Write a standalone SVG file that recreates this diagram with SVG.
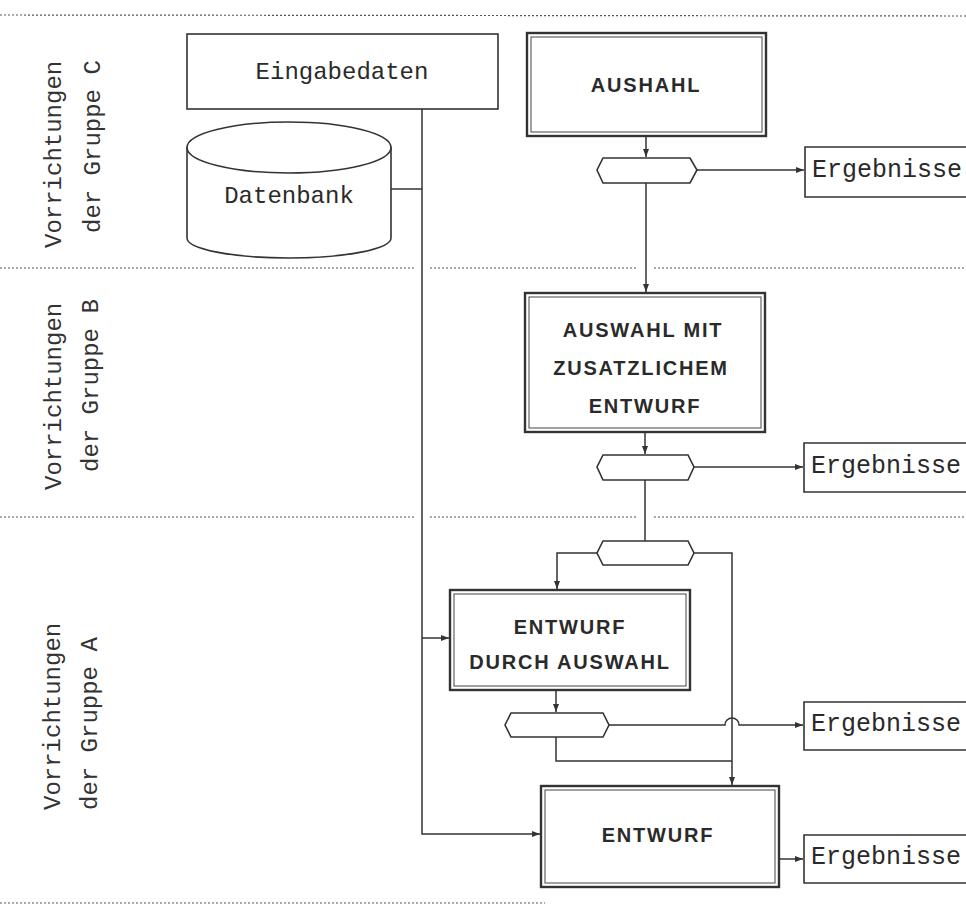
<svg xmlns="http://www.w3.org/2000/svg" width="966" height="907" viewBox="0 0 966 907">
<style>
.sep{stroke:#555;stroke-width:1.2;stroke-dasharray:2 2;fill:none}
.box{fill:#fff;stroke:#333;stroke-width:1.6}
.dbl{fill:#fff;stroke:#333;stroke-width:2.4}
.inner{fill:none;stroke:#444;stroke-width:1}
.ln{fill:none;stroke:#333;stroke-width:1.5}
.mono{font-family:"Liberation Mono","DejaVu Sans Mono",monospace;fill:#2a2a2a}
.lbl{font-family:"Liberation Mono","DejaVu Sans Mono",monospace;font-size:24px;fill:#333}
.bold{font-family:"Liberation Sans",Arial,sans-serif;font-weight:bold;font-size:20px;letter-spacing:1.8px;fill:#2a2a2a;text-anchor:middle}
</style>
<defs>
<marker id="ah" markerWidth="8" markerHeight="6" refX="8" refY="3" orient="auto" markerUnits="userSpaceOnUse">
<path d="M0,0 L8,3 L0,6 Z" fill="#333"/>
</marker>
</defs>
<rect width="966" height="907" fill="#fff"/>
<g id="separators">
<line class="sep" x1="0" y1="15" x2="966" y2="16"/>
<path class="sep" d="M0,268 H414 M430,268 H638 M654,268 H966"/>
<path class="sep" d="M0,517 H414 M430,517 H638 M654,517 H966"/>
<line class="sep" x1="0" y1="903" x2="545" y2="903"/>
</g>
<g id="labels">
<text class="lbl" transform="translate(61,248) rotate(-90)">Vorrichtungen</text>
<text class="lbl" transform="translate(100,233) rotate(-90)">der Gruppe C</text>
<text class="lbl" transform="translate(61,490) rotate(-90)">Vorrichtungen</text>
<text class="lbl" transform="translate(98,472) rotate(-90)">der Gruppe B</text>
<text class="lbl" transform="translate(60,810) rotate(-90)">Vorrichtungen</text>
<text class="lbl" transform="translate(97,810) rotate(-90)">der Gruppe A</text>
</g>
<g id="connectors">
<polyline class="ln" points="422,109 422,834 540,834" marker-end="url(#ah)"/>
<line class="ln" x1="391" y1="189" x2="422" y2="189"/>
<line class="ln" x1="422" y1="638" x2="449" y2="638" marker-end="url(#ah)"/>
<line class="ln" x1="646" y1="137" x2="646" y2="157" marker-end="url(#ah)"/>
<line class="ln" x1="697" y1="170" x2="804" y2="170" marker-end="url(#ah)"/>
<line class="ln" x1="646" y1="183" x2="646" y2="292" marker-end="url(#ah)"/>
<line class="ln" x1="645" y1="432" x2="645" y2="454" marker-end="url(#ah)"/>
<line class="ln" x1="694" y1="467" x2="803" y2="467" marker-end="url(#ah)"/>
<line class="ln" x1="645" y1="480" x2="645" y2="541"/>
<polyline class="ln" points="597,553 557,553 557,589" marker-end="url(#ah)"/>
<polyline class="ln" points="694,553 732,553 732,785" marker-end="url(#ah)"/>
<line class="ln" x1="556" y1="690" x2="556" y2="712" marker-end="url(#ah)"/>
<path class="ln" d="M609,725 H725 A7,7 0 0 1 739,725 H803" marker-end="url(#ah)"/>
<polyline class="ln" points="556,737 556,761 732,761"/>
<line class="ln" x1="779" y1="859" x2="803" y2="859" marker-end="url(#ah)"/>
</g>
<g id="eingabedaten">
<rect class="box" x="187" y="34" width="311" height="75"/>
<text class="mono" x="342" y="79" font-size="24" text-anchor="middle">Eingabedaten</text>
</g>
<g id="datenbank">
<path class="box" d="M187,147 V238 A102,20 0 0 0 391,238 V147"/>
<ellipse class="box" cx="289" cy="147.5" rx="102" ry="25.5"/>
<text class="mono" x="289" y="203" font-size="24" text-anchor="middle">Datenbank</text>
</g>
<g id="aushahl">
<rect class="dbl" x="527" y="33" width="239" height="103"/>
<rect class="inner" x="531" y="37" width="231" height="95"/>
<text class="bold" x="646" y="92">AUSHAHL</text>
</g>
<g id="hex1"><path class="box" d="M603,158 H690 L697,170 L690,183 H603 L597,170 Z"/></g>
<g id="ergebnisse1">
<path class="box" d="M970,147 H805 V197 H970"/>
<text class="mono" x="812" y="177" font-size="25">Ergebnisse</text>
</g>
<g id="auswahl-mit">
<rect class="dbl" x="525" y="293" width="240" height="139"/>
<rect class="inner" x="529" y="297" width="232" height="131"/>
<text class="bold" x="643" y="337">AUSWAHL MIT</text>
<text class="bold" x="641" y="375">ZUSATZLICHEM</text>
<text class="bold" x="645" y="413">ENTWURF</text>
</g>
<g id="hex2"><path class="box" d="M603,455 H688 L694,467 L688,480 H603 L597,467 Z"/></g>
<g id="ergebnisse2">
<path class="box" d="M970,443 H804 V492 H970"/>
<text class="mono" x="811" y="473" font-size="25">Ergebnisse</text>
</g>
<g id="hex3"><path class="box" d="M603,541 H688 L694,553 L688,565 H603 L597,553 Z"/></g>
<g id="entwurf-durch-auswahl">
<rect class="dbl" x="450" y="590" width="240" height="100"/>
<rect class="inner" x="454" y="594" width="232" height="92"/>
<text class="bold" x="570" y="634">ENTWURF</text>
<text class="bold" x="570" y="669">DURCH AUSWAHL</text>
</g>
<g id="hex4"><path class="box" d="M511,713 H603 L609,725 L603,737 H511 L505,725 Z"/></g>
<g id="ergebnisse3">
<path class="box" d="M970,702 H804 V750 H970"/>
<text class="mono" x="811" y="731" font-size="25">Ergebnisse</text>
</g>
<g id="entwurf">
<rect class="dbl" x="541" y="786" width="238" height="101"/>
<rect class="inner" x="545" y="790" width="230" height="93"/>
<text class="bold" x="658" y="842">ENTWURF</text>
</g>
<g id="ergebnisse4">
<path class="box" d="M970,835 H804 V883 H970"/>
<text class="mono" x="811" y="864" font-size="25">Ergebnisse</text>
</g>
</svg>
